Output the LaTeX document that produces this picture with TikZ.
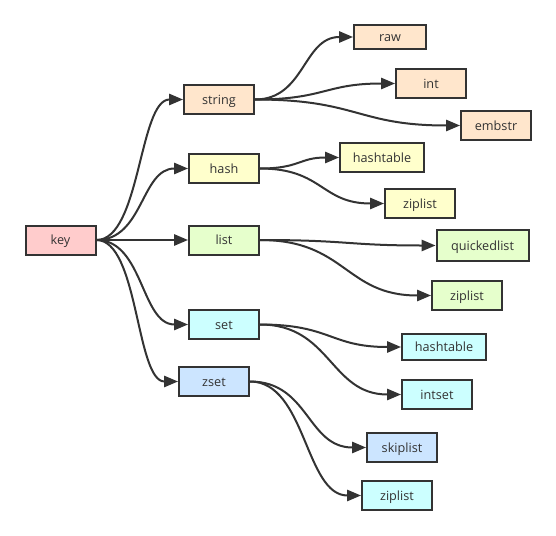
\documentclass[tikz,border=0pt]{standalone}
\usepackage{fontspec}
\setmainfont{Open Sans}
\usetikzlibrary{arrows.meta}
\definecolor{ink}{HTML}{333333}
\definecolor{ckey}{HTML}{FFCCCC}
\definecolor{cstr}{HTML}{FFE6CC}
\definecolor{chash}{HTML}{FFFFCC}
\definecolor{clist}{HTML}{E6FFCC}
\definecolor{cset}{HTML}{CCFFFF}
\definecolor{czset}{HTML}{CCE5FF}
\tikzset{
  box/.style={draw=ink, line width=1.5pt, inner sep=0pt, text=ink,
    font=\fontsize{9.5}{11}\selectfont, text height=7.8pt, text depth=0.8pt,
    minimum height=21.75pt, minimum width=52.5pt},
  arr/.style={draw=ink, line width=1.5pt, -{Triangle[length=10.5pt,width=8.5pt]}},
}
\begin{document}
\begin{tikzpicture}[x=0.75pt,y=-0.75pt]
\useasboundingbox (0,0) rectangle (556,535);
\node[box, fill=ckey] (key) at (60.5,240) {key};
\node[box, fill=cstr] (string) at (219,99.5) {string};
\node[box, fill=chash] (hash) at (224,168.5) {hash};
\node[box, fill=clist] (list) at (224,240) {list};
\node[box, fill=cset] (set) at (224,324.5) {set};
\node[box, fill=czset] (zset) at (214,381.5) {zset};
\node[box, fill=cstr, minimum width=54pt, minimum height=18pt] (raw) at (390,37) {raw};
\node[box, fill=cstr] (int) at (431,83.5) {int};
\node[box, fill=cstr] (embstr) at (496,125.5) {embstr};
\node[box, fill=chash, minimum width=63pt] (hht) at (382,157.5) {hashtable};
\node[box, fill=chash] (hzl) at (420,203.5) {ziplist};
\node[box, fill=clist, minimum width=69pt, minimum height=23pt] (qlist) at (482.5,245.5) {quickedlist};
\node[box, fill=clist] (lzl) at (467,295.5) {ziplist};
\node[box, fill=cset, minimum width=63pt, minimum height=19.5pt] (sht) at (444,347) {hashtable};
\node[box, fill=cset] (intset) at (437,394.5) {intset};
\node[box, fill=czset] (skip) at (402,447.5) {skiplist};
\node[box, fill=cset] (zzl) at (397,495.5) {ziplist};
% key edges
\draw[arr] (key.east) .. controls +(44,0) and +(-44,0) .. (string.west);
\draw[arr] (key.east) .. controls +(47,0) and +(-47,0) .. (hash.west);
\draw[arr] (key.east) -- (list.west);
\draw[arr] (key.east) .. controls +(47,0) and +(-47,0) .. (set.west);
\draw[arr] (key.east) .. controls +(42,0) and +(-42,0) .. (zset.west);
% string
\draw[arr] (string.east) .. controls +(50,0) and +(-50,0) .. (raw.west);
\draw[arr] (string.east) .. controls +(70,0) and +(-70,0) .. (int.west);
\draw[arr] (string.east) .. controls +(103,0) and +(-103,0) .. (embstr.west);
% hash
\draw[arr] (hash.east) .. controls +(40,0) and +(-40,0) .. (hht.west);
\draw[arr] (hash.east) .. controls +(63,0) and +(-63,0) .. (hzl.west);
% list
\draw[arr] (list.east) .. controls +(88,0) and +(-88,0) .. (qlist.west);
\draw[arr] (list.east) .. controls +(86,0) and +(-86,0) .. (lzl.west);
% set
\draw[arr] (set.east) .. controls +(71,0) and +(-71,0) .. (sht.west);
\draw[arr] (set.east) .. controls +(71,0) and +(-71,0) .. (intset.west);
% zset
\draw[arr] (zset.east) .. controls +(59,0) and +(-59,0) .. (skip.west);
\draw[arr] (zset.east) .. controls +(56,0) and +(-56,0) .. (zzl.west);
\end{tikzpicture}
\end{document}
